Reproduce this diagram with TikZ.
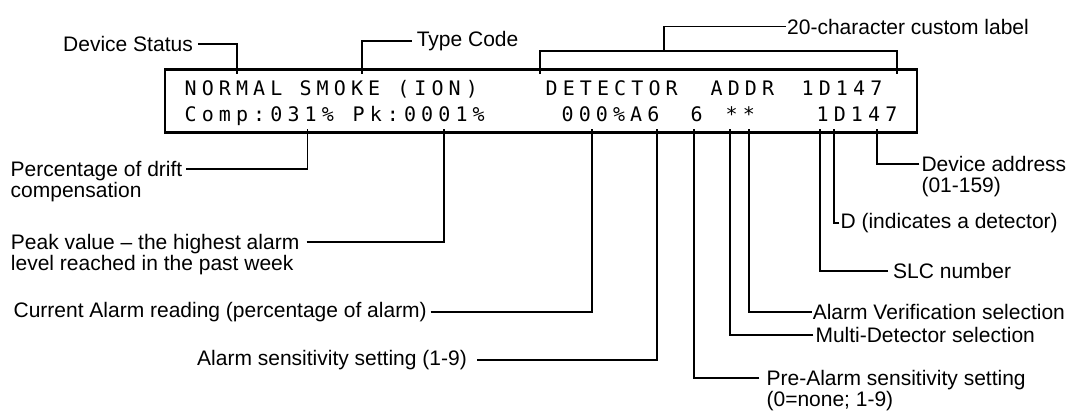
\documentclass[tikz,border=0pt]{standalone}
\usepackage{fontspec}
\setmainfont{Liberation Sans}
\newfontfamily\lcdfont[LetterSpace=25.5]{DejaVu Sans Mono}

\begin{document}
\begin{tikzpicture}[
  x=1pt, y=-1pt,
  font=\fontsize{21}{21}\selectfont,
  lbl/.style   ={inner ysep=0pt, align=left},
  lcd/.style   ={font=\lcdfont\fontsize{20}{20}\selectfont, inner sep=0pt, anchor=base west},
  screen/.style={draw, line width=2.4pt, minimum width=752pt, minimum height=63pt, inner sep=0pt},
  lead/.style  ={line width=1.9pt}
]
\useasboundingbox (0,0) rectangle (1075,410);

% --- display panel, two rows of 40 characters ---
\node[screen] (panel) at (541,101) {};

\node[lcd] (r1-status) at (184.5,95.5)  {NORMAL SMOKE (ION)};
\node[lcd] (r1-label)  at (545.5,95.5)  {DETECTOR};
\node[lcd] (r1-addr)   at (710.5,95.5)  {ADDR};
\node[lcd] (r1-num)    at (801.5,95.5)  {1D147};

\node[lcd] (r2-comp)   at (184.5,121) {Comp:031\%};
\node[lcd] (r2-peak)   at (352.5,121) {Pk:0001\%};
\node[lcd] (r2-alarm)  at (561.5,121) {000\%A6};
\node[lcd] (r2-pre)    at (690.5,121) {6};
\node[lcd] (r2-sel)    at (725.5,121) {**};
\node[lcd] (r2-num)    at (816.5,121) {1D147};

% --- points on the display that the leaders run to ---
\coordinate (p-status) at (236.7,74);
\coordinate (p-type)   at (361.7,74);
\coordinate (p-left)   at (539.7,74);
\coordinate (p-right)  at (897.4,74);
\coordinate (brace)    at (663.8,50.7);
\coordinate (p-drift)  at (307.5,128.5);
\coordinate (p-peak)   at (443.8,128.5);
\coordinate (p-cur)    at (591.8,128.5);
\coordinate (p-sens)   at (656.8,128.5);
\coordinate (p-pre)    at (693.7,128.5);
\coordinate (p-multi)  at (730,128.5);
\coordinate (p-verif)  at (748.6,128.5);
\coordinate (p-slc)    at (820,128.5);
\coordinate (p-det)    at (834,128.5);
\coordinate (p-addr)   at (876.7,128.5);

% --- labels above ---
\node[lbl, anchor=east, inner xsep=5pt]   (status) at (198,44)     {Device Status};
\node[lbl, anchor=west, inner xsep=5pt]   (type)   at (411.6,41)   {Type Code};
\node[lbl, anchor=west, inner xsep=1.5pt] (custom) at (785.5,26.5) {20-character custom label};

% --- labels below, left side ---
\node[lbl, anchor=north east, inner xsep=3.5pt] (drift) at (186,161)
  {Percentage of drift\\compensation};
\node[lbl, anchor=north east, inner xsep=7pt]   (peak)  at (306.5,234)
  {Peak value – the highest alarm\\level reached in the past week};
\node[lbl, anchor=east, inner xsep=3.5pt] (cur)  at (430.5,312) {Current Alarm reading (percentage of alarm)};
\node[lbl, anchor=east, inner xsep=10pt]  (sens) at (477,360)   {Alarm sensitivity setting (1-9)};

% --- labels below, right side ---
\node[lbl, anchor=north west, inner xsep=2pt] (addr) at (919.3,156)
  {Device address\\(01-159)};
\node[lbl, anchor=west, inner xsep=1pt] (det)   at (839.4,223) {D (indicates a detector)};
\node[lbl, anchor=west, inner xsep=5pt] (slc)   at (888,271)   {SLC number};
\node[lbl, anchor=west, inner xsep=1pt] (verif) at (811.6,312) {Alarm Verification selection};
\node[lbl, anchor=west, inner xsep=2pt] (multi) at (813.3,335) {Multi-Detector selection};
\node[lbl, anchor=north west, inner xsep=7pt] (pre) at (759.4,370)
  {Pre-Alarm sensitivity setting\\(0=none; 1-9)};

% --- leaders ---
\draw[lead] (status.east) -| (p-status);
\draw[lead] (type.west)   -| (p-type);
\draw[lead] (custom.west) -| (brace);
\draw[lead] (p-left) |- (brace) -| (p-right);

\draw[lead] ([yshift=-8pt]drift.north east) -| (p-drift);
\draw[lead] ([yshift=-8pt]peak.north east)  -| (p-peak);
\draw[lead] (cur.east)  -| (p-cur);
\draw[lead] (sens.east) -| (p-sens);

\draw[lead] ([yshift=-8pt]addr.north west) -| (p-addr);
\draw[lead] (det.west)   -| (p-det);
\draw[lead] (slc.west)   -| (p-slc);
\draw[lead] (verif.west) -| (p-verif);
\draw[lead] (multi.west) -| (p-multi);
\draw[lead] ([yshift=-8pt]pre.north west) -| (p-pre);

\end{tikzpicture}
\end{document}
